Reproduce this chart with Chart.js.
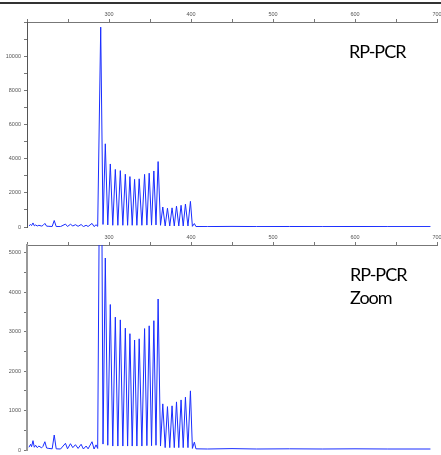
<!DOCTYPE html>
<html>
<head>
<meta charset="utf-8">
<script src="https://cdn.jsdelivr.net/npm/chart.js@4"></script>
<style>
  body { margin: 0; background: #fff; width: 441px; height: 455px; position: relative; overflow: hidden; }
  canvas { position: absolute; left: 0; }
  #topRule { position: absolute; left: 0; top: 2px; width: 441px; height: 2px; background: #333; }
  .tag { position: absolute; font-family: Lato, "Open Sans", sans-serif; font-size: 18px; letter-spacing: -1px; color: #000; white-space: nowrap; }
</style>
</head>
<body>
<div id="topRule"></div>
<canvas id="fullChart" width="441" height="232" style="top:0"></canvas>
<canvas id="zoomChart" width="441" height="229" style="top:226px"></canvas>
<div class="tag" style="left:349px; top:42px; line-height:18px;">RP-PCR</div>
<div class="tag" style="left:350px; top:263px; line-height:23px;">RP-PCR<br>Zoom</div>
<script>
// Fragment size (x) and signal height (y): noise, peak tops and valleys
const traceSizes = [
  202.4, 204.4, 205.6, 207.3, 208.9, 210.5, 212.5, 214.5, 217.8, 219.4,
  221.8, 223.9, 226.7, 230.7, 233.2, 235.6, 240.9, 246.9, 249.4, 253.0,
  255.9, 259.1, 262.3, 266.0, 268.8, 272.1, 274.5, 279.3, 281.8, 284.2,
  286.2, 289.9, 292.7, 295.5, 298.5, 301.6, 304.6, 307.7, 310.8, 313.8,
  316.9, 319.9, 322.7, 325.5, 328.3, 331.2, 334.0, 336.8, 340.1, 343.4,
  346.2, 349.0, 351.9, 354.7, 357.3, 359.9, 362.8, 365.6, 368.5, 371.3,
  374.1, 376.9, 379.6, 382.3, 385.1, 387.9, 390.5, 393.2, 396.3, 399.3,
  401.7, 404.1, 406.0, 420, 450, 480, 520, 560, 600, 640, 692
];
const traceHeights = [
  70, 145, 85, 237, 70, 120, 60, 100, 55, 90,
  210, 50, 40, 30, 380, 30, 25, 170, 30, 160,
  60, 135, 40, 145, 25, 100, 30, 210, 25, 130,
  40, 11700, 150, 4870, 120, 3690, 100, 3370, 100, 3300,
  100, 3090, 100, 2950, 100, 2790, 100, 2820, 100, 3080,
  110, 3150, 110, 3280, 120, 3830, 100, 1170, 60, 1100,
  60, 1120, 60, 1220, 60, 1270, 60, 1340, 60, 1500,
  40, 200, 30, 25, 35, 25, 30, 25, 30, 25, 25
];

// Tick labels shown on the axes
const sizeLabels = [300, 400, 500, 600, 700];
const fullLabels = [0, 2000, 4000, 6000, 8000, 10000];
const zoomLabels = [0, 1000, 2000, 3000, 4000, 5000];

const points = traceSizes.map((x, i) => ({ x: x, y: traceHeights[i] }));

// Build one panel; both panels share the same trace
function makePanel(canvasId, yMax, yStep, yLabels, xHeight, leftWidth, leftColor) {
  const tickFont = { family: 'Liberation Sans, Arial, sans-serif', size: 5.5 };
  return new Chart(document.getElementById(canvasId), {
    type: 'line',
    data: {
      datasets: [{
        data: points,
        borderColor: 'rgb(25, 45, 255)',
        borderWidth: 1,
        pointRadius: 0,
        tension: 0
      }]
    },
    options: {
      responsive: false,
      animation: false,
      devicePixelRatio: 1,
      layout: { padding: { left: 0, right: 4, top: 0, bottom: 5 } },
      plugins: { legend: { display: false }, tooltip: { enabled: false } },
      scales: {
        x: {
          type: 'linear',
          position: 'top',
          min: 200,
          max: 700,
          ticks: {
            font: tickFont,
            color: '#555',
            padding: 1,
            maxRotation: 0,
            autoSkip: false,
            callback: v => sizeLabels.includes(v) ? String(v) : ''
          },
          afterBuildTicks: s => {
            const t = [];
            for (let v = 200; v <= 700; v += 50) t.push({ value: v });
            s.ticks = t;
          },
          grid: { drawOnChartArea: false, tickLength: 3, color: '#777' },
          border: { color: '#777', width: 1 },
          afterFit: s => { s.height = xHeight; s.paddingLeft = 0; s.paddingRight = 0; }
        },
        y: {
          min: 0,
          max: yMax,
          ticks: {
            font: tickFont,
            color: '#555',
            padding: 3,
            autoSkip: false,
            callback: v => yLabels.includes(v) ? String(v) : ''
          },
          afterBuildTicks: s => {
            const t = [];
            for (let v = 0; v <= yMax; v += yStep) t.push({ value: v });
            s.ticks = t;
          },
          grid: { drawOnChartArea: false, tickLength: 3, color: '#777' },
          border: { color: leftColor, width: leftWidth },
          afterFit: s => { s.width = 27; s.paddingTop = 0; s.paddingBottom = 0; }
        }
      }
    }
  });
}

makePanel('fullChart', 12000, 1000, fullLabels, 22, 1, '#555');
makePanel('zoomChart', 5200, 500, zoomLabels, 19, 2, '#999');
</script>
</body>
</html>
